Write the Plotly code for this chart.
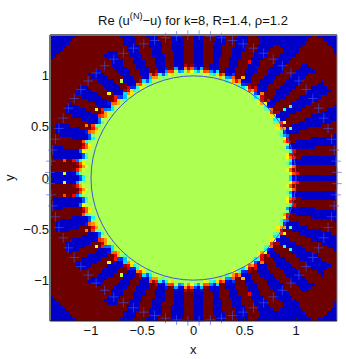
import numpy as np
import plotly.graph_objects as go

# spokes, upper half only (the lower half mirrors it)
# angle in degrees near the disc, angle near the frame, radius where the disc
# colour ends, radius where the full colour is reached, radius where the spoke
# stops (9 = runs out of the frame), colour 0 blue / 1 dark red
spoke_angle_in = [0, 4.4, 8.8, 13.2, 17.6, 22, 26.3, 30.7, 35.1, 39.5, 43.9, 48.3, 53, 57.8, 62, 66.5, 71, 75.3, 79.4, 83.4, 87.8,
                  92.3, 96.9, 101.5, 106, 110.5, 115, 119, 123, 127, 130.8, 135.4, 140, 144.6, 149.2, 153.8, 158.5, 163.5, 168.5, 174, 180]
spoke_angle_out = [0, 2.8, 6.2, 10, 14.5, 19.5, 24.5, 29.5, 35.1, 39.5, 43.9, 48.3, 52.7, 57, 61.7, 66.3, 70.8, 75.3, 79.4, 83.4, 87.8,
                   92.3, 96.9, 101.5, 106, 110.5, 115, 119.5, 123.6, 128.5, 133.4, 137.8, 142.2, 146.5, 150.8, 155.4, 160, 165, 170, 175, 180]
spoke_start = [.91, .91, .92, .92, .93, .93, .94, .94, .95, .95, .96, .96, .97, .97, .98, .98, .99, .99, 1, 1, 1.01,
               1.01, 1.01, 1.01, 1.01, 1.01, 1, 1, 1, 1, 1, 1, 1.01, 1.01, 1.02, 1.02, 1.03, 1.03, 1.04, 1.04, 1.04]
spoke_full = [.99, .99, 1, 1, 1, 1, 1.01, 1.01, 1.02, 1.02, 1.03, 1.03, 1.05, 1.05, 1.06, 1.06, 1.07, 1.07, 1.08, 1.08, 1.08,
              1.09, 1.08, 1.09, 1.08, 1.09, 1.08, 1.09, 1.08, 1.09, 1.08, 1.1, 1.09, 1.11, 1.1, 1.12, 1.11, 1.13, 1.12, 1.14, 1.13]
spoke_end = [9, 9, 9, 9, 9, 9, 9, 9, 1.58, 9, 1.58, 9, 9, 1.54, 9, 1.52, 9, 9, 9, 9, 9,
             9, 9, 9, 9, 9, 9, 9, 1.48, 9, 1.43, 9, 1.43, 9, 1.42, 9, 1.42, 9, 1.39, 9, 9]
spoke_color = [0, 1, 0, 1, 0, 1, 0, 1, 0, 1, 0, 1, 0, 1, 0, 1, 0, 1, 0, 1, 0,
               1, 0, 1, 0, 1, 0, 1, 0, 1, 0, 1, 0, 1, 0, 1, 0, 1, 0, 1, 0]

# single off-colour cells between the spokes, upper half
speck_x = [0.558, 0.483, 0.614, 0.679, 0.878, 0.94, 0.81, 0.878, 0.94, -0.698, -0.835, -0.953, -1.057, -1.25, -1.27, 1.0]
speck_y = [1.123, 0.976, 0.869, 0.813, 0.656, 0.698, 0.59, 0.558, 0.496, 0.937, 0.82, 0.672, 0.519, 0.055, 0.18, 0.05]
speck_v = [0.87, 0.7, 0.87, 0.75, 0.4, 0.4, 0.4, 0.62, 0.45, 0.55, 0.62, 0.62, 0.75, 0.58, 0.8, 0.87]

disc_value = 0.54
n_cells = 90

# first quadrant crosses, mirrored to the other three
cross_x = [1.399, 1.390, 1.373, 1.347, 1.313, 1.271, 1.221, 1.164, 1.099, 1.028,
           0.950, 0.867, 0.778, 0.684, 0.586, 0.485, 0.380, 0.273, 0.165, 0.055]
cross_y = [0.055, 0.165, 0.273, 0.380, 0.485, 0.586, 0.684, 0.778, 0.867, 0.950,
           1.028, 1.099, 1.164, 1.221, 1.271, 1.313, 1.347, 1.373, 1.390, 1.399]

x_ticks = [-1, -0.5, 0, 0.5, 1]
y_ticks = [-1, -0.5, 0, 0.5, 1]
tick_text = ['\u22121', '\u22120.5', '0', '0.5', '1']

jet = [[0, '#0000c8'], [0.12, '#0000ff'], [0.37, '#00ffff'],
       [0.62, '#ffff00'], [0.87, '#ff0000'], [1, '#6e0000']]


def spoke_field():
    # paint the spoke table on to the cell grid
    edges = np.linspace(-1.4, 1.4, n_cells + 1)
    mid = (edges[:-1] + edges[1:]) / 2
    xx, yy = np.meshgrid(mid, mid)
    r = np.hypot(xx, yy)
    theta = np.degrees(np.arctan2(np.abs(yy), xx))

    a_in = np.array(spoke_angle_in)
    a_out = np.array(spoke_angle_out)
    bend = np.clip((r - 1.05) / 0.4, 0, 1)[..., None]
    gap = np.abs(a_in + (a_out - a_in) * bend - theta[..., None])
    nearest = np.argmin(gap, axis=2)
    off = np.min(gap, axis=2)

    color = np.array(spoke_color, dtype=float)[nearest]
    # rounded spoke heads: the head starts later towards the spoke's edges
    head = 0.05 * (off / 2.3) ** 2
    start = np.array(spoke_start)[nearest] + head
    full = np.array(spoke_full)[nearest] + head
    end = np.array(spoke_end)[nearest]

    color = np.where(r > end, 1 - color, color)
    ramp = np.clip((r - start) / (full - start), 0, 1)
    z = disc_value + (color - disc_value) * ramp

    # blue corners
    z = np.where((xx > 0) & (r > 1.85), 0, z)
    z = np.where((xx < 0) & (np.abs(xx) + np.abs(yy) > 2.55), 0, z)

    for sx, sy, sv in zip(speck_x, speck_y, speck_v):
        col = np.argmin(np.abs(mid - sx))
        z[np.argmin(np.abs(mid - sy)), col] = sv
        z[np.argmin(np.abs(mid + sy)), col] = sv
    return mid, z


mid, z = spoke_field()

all_x = []
all_y = []
for sx, sy in [(1, 1), (-1, 1), (-1, -1), (1, -1)]:
    all_x += [sx * v for v in cross_x]
    all_y += [sy * v for v in cross_y]

fig = go.Figure()
fig.add_trace(go.Heatmap(x=mid, y=mid, z=z, colorscale=jet, zmin=0, zmax=1, showscale=False))
fig.add_trace(go.Scatter(x=all_x, y=all_y, mode='markers', cliponaxis=False, showlegend=False,
                         marker=dict(symbol='cross-thin', size=7,
                                     line=dict(color='rgba(60,85,255,0.6)', width=1))))

fig.add_shape(type='circle', xref='x', yref='y', x0=-1, y0=-1, x1=1, y1=1,
              line=dict(color='#3c5ad8', width=1))
# frame: the top and left read grey, the bottom black
fig.add_shape(type='line', xref='paper', yref='paper', x0=0, x1=1, y0=1, y1=1, line=dict(color='#707070', width=2))
fig.add_shape(type='line', xref='paper', yref='paper', x0=0, x1=0, y0=0, y1=1, line=dict(color='#707070', width=2))
fig.add_shape(type='line', xref='paper', yref='paper', x0=1, x1=1, y0=0, y1=1, line=dict(color='#808080', width=1))
fig.add_shape(type='line', xref='paper', yref='paper', x0=0, x1=1, y0=0, y1=0, line=dict(color='#202020', width=1))

font = dict(family='Liberation Sans', size=13, color='#111111')
fig.add_annotation(text='x', xref='paper', yref='paper', x=0.5, y=-28 / 286, yanchor='middle',
                   showarrow=False, font=font)
fig.add_annotation(text='y', xref='paper', yref='paper', x=-41 / 287, y=0.5, xanchor='center',
                   textangle=-90, showarrow=False, font=font)

fig.update_layout(width=346, height=359, autosize=False,
                  margin=dict(l=50, r=9, t=35, b=38),
                  plot_bgcolor='white', paper_bgcolor='white', font=font,
                  title=dict(text='Re (u<sup>(N)</sup>\u2212u) for k=8, R=1.4, \u03c1=1.2',
                             font=font, x=193 / 346, xanchor='center', y=1 - 20 / 359, yanchor='middle'))
fig.update_xaxes(range=[-1.4, 1.4], tickvals=x_ticks, ticktext=tick_text, ticks='inside', ticklen=3,
                 tickcolor='#222222', showgrid=False, zeroline=False, automargin=False)
fig.update_yaxes(range=[-1.4, 1.4], tickvals=y_ticks, ticktext=tick_text, ticks='inside', ticklen=3,
                 tickcolor='#222222', showgrid=False, zeroline=False, automargin=False)

fig.write_html("out.html", config={'displayModeBar': False},
               post_script="document.body.style.margin='0';")
